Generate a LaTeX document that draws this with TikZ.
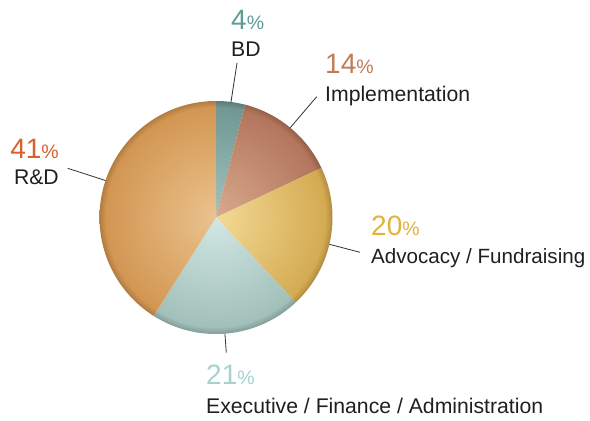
\documentclass[tikz,border=0pt]{standalone}
\usepackage{fontspec}
\setmainfont{Liberation Sans}
\usepackage{tikz}
\usetikzlibrary{positioning,calc}

% percentage colours
\definecolor{bdpct}{HTML}{5F9C95}
\definecolor{impct}{HTML}{C27B56}
\definecolor{adpct}{HTML}{E2B23A}
\definecolor{expct}{HTML}{A5D3CC}
\definecolor{rdpct}{HTML}{D9602E}
% slice colours (centre / rim)
\definecolor{bdin}{HTML}{A2C3BF}
\definecolor{bdout}{HTML}{6E9590}
\definecolor{imin}{HTML}{D9AA8C}
\definecolor{imout}{HTML}{B0735A}
\definecolor{adin}{HTML}{F3DA95}
\definecolor{adout}{HTML}{D2A84E}
\definecolor{exin}{HTML}{D2E7E4}
\definecolor{exout}{HTML}{9FBDB7}
\definecolor{rdin}{HTML}{EAC38E}
\definecolor{rdout}{HTML}{D1944F}

\newcommand{\pcttext}[1]{{\fontsize{28}{28}\selectfont #1}{\fontsize{19.5}{19.5}\selectfont\%}}

\begin{document}
\begin{tikzpicture}[
                x=1pt, y=1pt,
                pct/.style={inner sep=0pt, anchor=base west},
                lbl/.style={inner sep=0pt, text=black!88, font=\fontsize{21.2}{21.2}\selectfont},
                leader/.style={draw=black!80, line width=0.8pt},
                auto
            ]

            \useasboundingbox (0,0) rectangle (590,421);
            \coordinate (c) at (216,203.5);
            \def\rad{116.5}

            %slices
            \foreach \a/\b/\ci/\co in {90/75.6/bdin/bdout, 75.6/25.2/imin/imout,
                25.2/-46.8/adin/adout, -46.8/-122.4/exin/exout, -122.4/-270/rdin/rdout}{
                \begin{scope}
                    \clip (c) -- ++(\a:\rad) arc[start angle=\a, end angle=\b, radius=\rad] -- cycle;
                    \shade[inner color=\ci, outer color=\co] (c) circle (\rad);
                \end{scope}
            }

            %rim
            \begin{scope}
                \clip (c) circle (\rad);
                \foreach \w in {2,4,...,12}
                    \draw[black, opacity=0.025, line width=\w pt] (c) circle (\rad);
            \end{scope}

            %percentages
            \node[pct, text=bdpct]      (p4)    at (231,391)    {\pcttext{4}};
            \node[pct, text=impct]      (p14)   at (325,347)    {\pcttext{14}};
            \node[pct, text=adpct]      (p20)   at (371,185.3)  {\pcttext{20}};
            \node[pct, text=expct]      (p21)   at (206,36)     {\pcttext{21}};
            \node[pct, text=rdpct, anchor=base east] (p41) at (59,262.7) {\pcttext{41}};

            %labels
            \node[lbl, below=27pt of p4.base west, anchor=base west]    (bd)    {BD};
            \node[lbl, below=28pt of p14.base west, anchor=base west]   (impl)  {Implementation};
            \node[lbl, below=28pt of p20.base west, anchor=base west, font=\fontsize{20.6}{20.6}\selectfont] (adv) {Advocacy / Fundraising};
            \node[lbl, below=29pt of p21.base west, anchor=base west]   (exec)  {Executive / Finance / Administration};
            \node[lbl, below=26pt of p41.base east, anchor=base east]   (rd)    {R\&D};

            %leader ends
            \coordinate (bdrim)   at ($(c)+(82.6:\rad)$);
            \coordinate (imrim)   at ($(c)+(50.4:\rad)$);
            \coordinate (adrim)   at ($(c)+(-13.3:\rad)$);
            \coordinate (exrim)   at ($(c)+(-85.6:\rad)$);
            \coordinate (rdrim)   at ($(c)+(161.5:\rad)$);
            \coordinate (bdend)   at (237,358);
            \coordinate (imend)   at (316.7,324.3);
            \coordinate (adend)   at (360,168.7);
            \coordinate (exend)   at (226.3,68.3);
            \coordinate (rdend)   at (67.7,252.7);

            %leaders
            \draw[leader] (bdrim) -- (bdend);
            \draw[leader] (imrim) -- (imend);
            \draw[leader] (adrim) -- (adend);
            \draw[leader] (exrim) -- (exend);
            \draw[leader] (rdrim) -- (rdend);

\end{tikzpicture}
\end{document}
